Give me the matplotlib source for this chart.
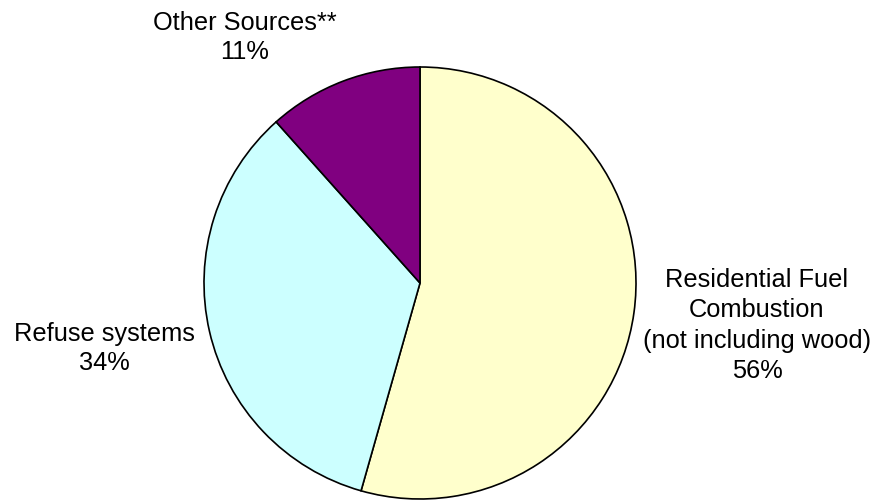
import matplotlib.pyplot as plt

# slice values (angles), printed labels as in the original
categories = ["Residential Fuel\nCombustion\n(not including wood)", "Refuse systems", "Other Sources**"]
values = [54.4, 34.0, 11.6]
pct_labels = ["56%", "34%", "11%"]
colors = ["#FFFFCC", "#CCFFFF", "#800080"]

plt.rcParams['font.family'] = ['Liberation Sans', 'DejaVu Sans']

fig = plt.figure(figsize=(8.75, 5.02), dpi=100)
ax = fig.add_axes([0, 0, 1, 1])

ax.pie(values, colors=colors, startangle=90, counterclock=False,
       center=(420, 218), radius=216, frame=True,
       wedgeprops=dict(edgecolor='black', linewidth=1.2))
ax.set_xlim(0, 875)
ax.set_ylim(0, 502)
ax.set_aspect('equal')
ax.axis('off')

# label positions
lab_xy = [(757, 176.5), (104, 153.5), (245, 464.5)]
spacing = [1.33, 1.25, 1.25]
for name, pct, (x, y), ls in zip(categories, pct_labels, lab_xy, spacing):
    ax.text(x, y, name + "\n" + pct, ha='center', va='center',
            fontsize=18.3, linespacing=ls)

fig.savefig("out.png", dpi=100)
